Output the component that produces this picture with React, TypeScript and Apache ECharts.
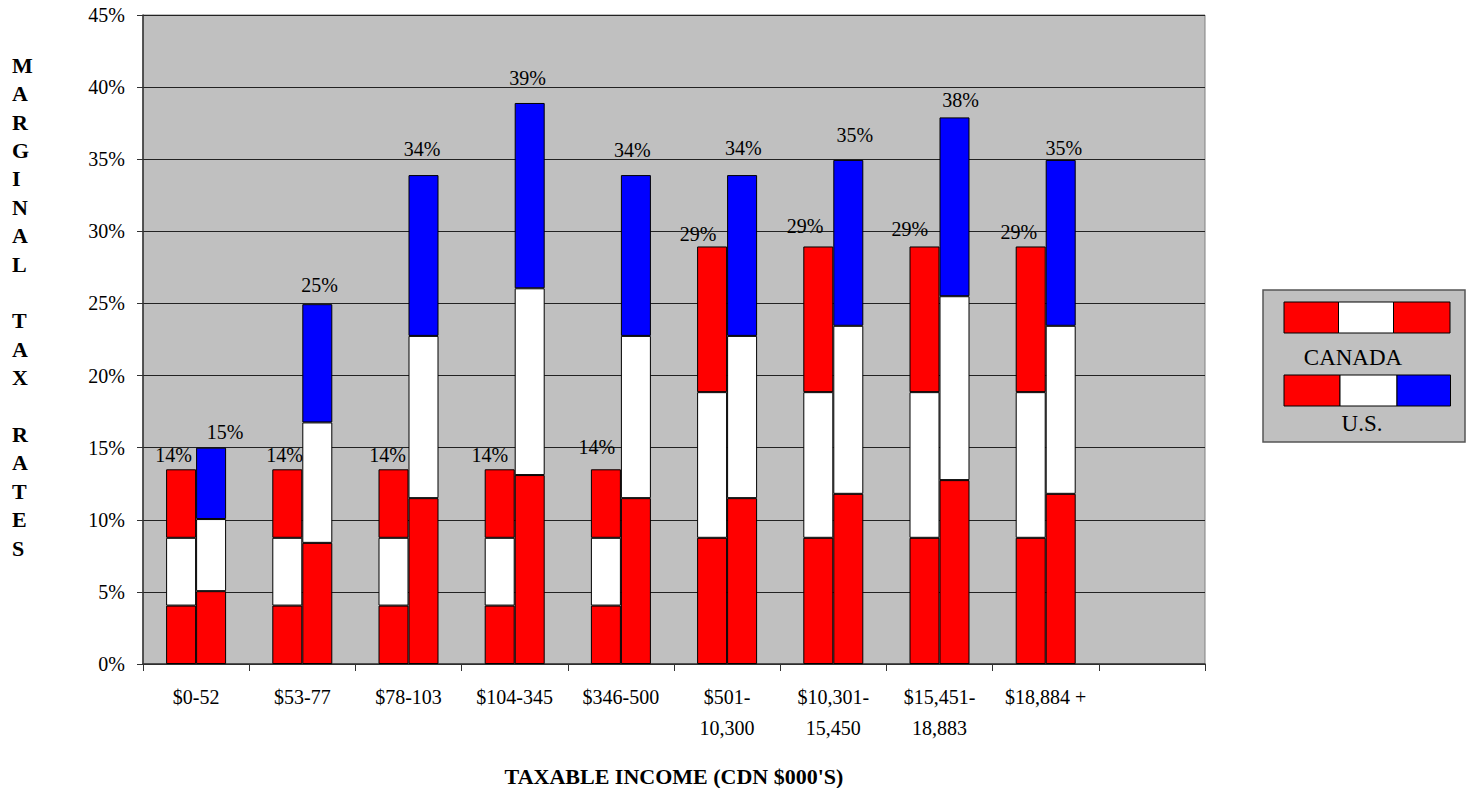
import React, { useEffect, useRef } from "react";
import * as echarts from "echarts";

const categories = [
  "$0-52",
  "$53-77",
  "$78-103",
  "$104-345",
  "$346-500",
  "$501-\n10,300",
  "$10,301-\n15,450",
  "$15,451-\n18,883",
  "$18,884 +",
  "",
];

// Canada: red / white / red segments (%)
const canadaLow = [4.05, 4.05, 4.05, 4.05, 4.05, 8.75, 8.75, 8.75, 8.75];
const canadaMid = [4.7, 4.7, 4.7, 4.7, 4.7, 10.1, 10.1, 10.1, 10.1];
const canadaHigh = [4.75, 4.75, 4.75, 4.75, 4.75, 10.1, 10.1, 10.1, 10.1];
const canadaTotals = ["14%", "14%", "14%", "14%", "14%", "29%", "29%", "29%", "29%"];

// U.S.: red / white / blue segments (%)
const usLow = [5.05, 8.4, 11.5, 13.1, 11.5, 11.5, 11.8, 12.75, 11.8];
const usMid = [5.0, 8.35, 11.25, 12.95, 11.25, 11.25, 11.65, 12.75, 11.65];
const usHigh = [4.95, 8.2, 11.15, 12.85, 11.15, 11.15, 11.5, 12.4, 11.5];
const usTotals = ["15%", "25%", "34%", "39%", "34%", "34%", "35%", "38%", "35%"];

const yTicks = { min: 0, max: 45, interval: 5 };

// label nudges (styling only)
const caLabelDx = [-7.5, -2.75, -6, -9.85, -9.15, -14, -13.25, -14.55, -11.85];
const caLabelRise = [14, 14, 14, 14, 22, 12.5, 20.8, 17.5, 14.2];
const usLabelDx = [14, 2.25, -1.35, -2, -3.65, 1.35, 6.45, 6.15, 3.15];
const usLabelRise = [15.6, 19.3, 25.7, 25.4, 25, 27.3, 25, 17, 12];

const FONT = "Liberation Serif";
const RED = "#ff0000";
const WHITE = "#ffffff";
const BLUE = "#0000ff";

export default function App() {
  const ref = useRef<HTMLDivElement>(null);

  useEffect(() => {
    if (!ref.current) return;
    const chart = echarts.init(ref.current, undefined, { renderer: "svg" });

    const barBase = (name: string, stack: string, color: string, data: any[]) => ({
      name,
      type: "bar",
      stack,
      data,
      barWidth: 30,
      barGap: "0%",
      itemStyle: { color, borderColor: "#000", borderWidth: 1 },
      emphasis: { disabled: true },
    });

    const labelled = (vals: number[], totals: string[], dx: number[], rise: number[]) =>
      vals.map((v, i) => ({
        value: v,
        label: {
          show: true,
          position: "top",
          distance: 0,
          offset: [dx[i], 10 - rise[i]],
          formatter: () => totals[i],
          fontFamily: FONT,
          fontSize: 20,
          lineHeight: 20,
          color: "#000",
        },
      }));

    const title = "M\nA\nR\nG\nI\nN\nA\nL\n\nT\nA\nX\n\nR\nA\nT\nE\nS";

    chart.setOption({
      animation: false,
      textStyle: { fontFamily: FONT },
      grid: {
        left: 143,
        top: 15,
        width: 1062,
        height: 649,
        show: true,
        backgroundColor: "#c0c0c0",
        borderColor: "#808080",
        borderWidth: 1,
      },
      xAxis: {
        type: "category",
        data: categories,
        axisLine: { show: true, lineStyle: { color: "#333", width: 1.5 } },
        axisTick: { show: true, interval: 0, length: 7, lineStyle: { color: "#333" } },
        axisLabel: {
          interval: 0,
          margin: 17,
          fontFamily: FONT,
          fontSize: 20,
          lineHeight: 31,
          color: "#000",
        },
        splitLine: { show: false },
      },
      yAxis: {
        type: "value",
        min: yTicks.min,
        max: yTicks.max,
        interval: yTicks.interval,
        axisLine: { show: true, lineStyle: { color: "#333", width: 1.5 } },
        axisTick: { show: true, length: 6, lineStyle: { color: "#333" } },
        axisLabel: {
          margin: 18,
          formatter: "{value}%",
          fontFamily: FONT,
          fontSize: 20,
          color: "#000",
        },
        splitLine: { show: true, lineStyle: { color: "#222", width: 1 } },
      },
      series: [
        barBase("Canada 1", "ca", RED, canadaLow),
        barBase("Canada 2", "ca", WHITE, canadaMid),
        barBase("Canada 3", "ca", RED, labelled(canadaHigh, canadaTotals, caLabelDx, caLabelRise)),
        barBase("US 1", "us", RED, usLow),
        barBase("US 2", "us", WHITE, usMid),
        barBase("US 3", "us", BLUE, labelled(usHigh, usTotals, usLabelDx, usLabelRise)),
      ],
      graphic: [
        {
          type: "text",
          left: 12,
          top: 51,
          style: {
            text: title,
            fontFamily: FONT,
            fontSize: 22,
            fontWeight: "bold",
            lineHeight: 28.4,
            align: "center",
            fill: "#000",
            width: 22,
          },
        },
        {
          type: "text",
          x: 674,
          y: 776,
          style: {
            text: "TAXABLE INCOME (CDN $000'S)",
            fontFamily: FONT,
            fontSize: 22,
            fontWeight: "bold",
            align: "center",
            verticalAlign: "middle",
            fill: "#000",
          },
        },
        {
          type: "group",
          children: [
            {
              type: "rect",
              shape: { x: 1263, y: 290, width: 202, height: 152 },
              style: { fill: "#c0c0c0", stroke: "#555", lineWidth: 1.5 },
            },
            { type: "rect", shape: { x: 1284, y: 302, width: 54.5, height: 31 }, style: { fill: RED, stroke: "#000", lineWidth: 1 } },
            { type: "rect", shape: { x: 1338.5, y: 302, width: 55, height: 31 }, style: { fill: WHITE, stroke: "#000", lineWidth: 1 } },
            { type: "rect", shape: { x: 1393.5, y: 302, width: 56.5, height: 31 }, style: { fill: RED, stroke: "#000", lineWidth: 1 } },
            {
              type: "text",
              x: 1353,
              y: 357,
              style: { text: "CANADA", fontFamily: FONT, fontSize: 23, align: "center", verticalAlign: "middle", fill: "#000" },
            },
            { type: "rect", shape: { x: 1284, y: 375, width: 56, height: 31 }, style: { fill: RED, stroke: "#000", lineWidth: 1 } },
            { type: "rect", shape: { x: 1340, y: 375, width: 57, height: 31 }, style: { fill: WHITE, stroke: "#000", lineWidth: 1 } },
            { type: "rect", shape: { x: 1397, y: 375, width: 53.5, height: 31 }, style: { fill: BLUE, stroke: "#000", lineWidth: 1 } },
            {
              type: "text",
              x: 1362,
              y: 423,
              style: { text: "U.S.", fontFamily: FONT, fontSize: 23, align: "center", verticalAlign: "middle", fill: "#000" },
            },
          ],
        },
      ],
    });

    return () => chart.dispose();
  }, []);

  return (
    <div
      ref={ref}
      style={{ position: "fixed", left: 0, top: 0, width: 1466, height: 788, background: "#fff" }}
    />
  );
}
